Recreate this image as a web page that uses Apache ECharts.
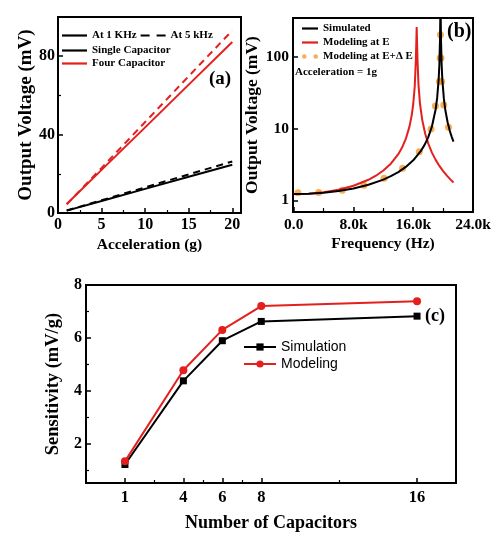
<!DOCTYPE html>
<html><head><meta charset="utf-8">
<script src="https://cdn.jsdelivr.net/npm/echarts@6/dist/echarts.min.js"></script>
<style>html,body{margin:0;padding:0;background:#fff}#c{width:500px;height:541px}</style>
</head><body><div id="c"></div>
<script>
// ---- Panel (a): output voltage vs acceleration ----
var accel = [1, 5, 10, 15, 20];
var singleAt1k = [1.2, 6.1, 12.3, 18.5, 24.6];
var singleAt5k = [1.25, 6.5, 13.1, 19.7, 26.3];
var fourAt1k = [4.6, 22.0, 43.7, 65.5, 87.2];
var fourAt5k = [4.4, 23.0, 46.4, 69.8, 93.1];
var aXLabels = [0, 5, 10, 15, 20];
var aYLabels = [0, 40, 80];

// ---- Panel (b): output voltage vs frequency ----
var simFreq = [0, 2000, 4000, 6000, 8000, 10000, 12000, 13000, 14000, 15000, 16000, 17000, 17500, 18000, 18500, 19000, 19200, 19400, 19500, 19580, 19650, 19720, 19800, 19900, 20100, 20300, 20600, 20900, 21150, 21390];
var simVolt = [1.22, 1.233, 1.273, 1.345, 1.462, 1.646, 1.946, 2.17, 2.478, 2.924, 3.62, 4.851, 5.9, 7.58, 10.74, 18.74, 26.9, 48.4, 80.3, 172, 600, 171, 79.6, 47.7, 26.3, 18.1, 12.3, 9.29, 7.7, 6.6];
var modFreq = [0, 2000, 4000, 6000, 8000, 10000, 11000, 12000, 13000, 14000, 14500, 15000, 15500, 15800, 16000, 16200, 16350, 16460, 16570, 16700, 16900, 17200, 17600, 18000, 18500, 19000, 19500, 20000, 20500, 21000, 21390];
var modVolt = [1.22, 1.238, 1.297, 1.407, 1.597, 1.934, 2.205, 2.604, 3.243, 4.411, 5.446, 7.198, 10.78, 15.52, 22.14, 38.98, 92, 263, 91, 41.5, 22.5, 13.3, 8.51, 6.23, 4.63, 3.67, 3.02, 2.56, 2.214, 1.943, 1.771];
var dotFreq = [560, 3350, 6490, 9400, 12100, 14570, 16810, 18380, 18970, 19500, 19600, 19640, 19720, 19800, 20090, 20720];
var dotVolt = [1.27, 1.28, 1.38, 1.62, 2.03, 2.8, 4.75, 9.9, 20.8, 45.5, 97, 205, 97, 45.5, 21.5, 10.5];
var bXLabels = [0, 8000, 16000, 24000];
var bYLabels = [1, 10, 100];

// ---- Panel (c): sensitivity vs number of capacitors ----
var capCount = [1, 4, 6, 8, 16];
var simSens = [1.2, 4.37, 5.89, 6.62, 6.82];
var modSens = [1.32, 4.77, 6.3, 7.2, 7.38];
var cYLabels = [2, 4, 6, 8];

function pairs(xs, ys) { return xs.map(function (x, i) { return [x, ys[i]]; }); }

var SERIF = '"Liberation Serif", "Times New Roman", serif';
var RED = '#e3201e', ORANGE = '#f59a2a';
var SOLID25 = 'path://M0,0H25V2.2H0Z';
var DASH25 = 'path://M0,0H9V2.2H0ZM16,0H25V2.2H16Z';
var SOLID16 = 'path://M0,0H16V2.2H0Z';
var DOTS16 = 'path://M0,3a3,3 0 1,0 6,0a3,3 0 1,0 -6,0M15,3a3,3 0 1,0 6,0a3,3 0 1,0 -6,0';

function baseAxis(extra) {
  var o = {
    axisLine: { show: true, onZero: false, lineStyle: { color: '#000', width: 2 } },
    splitLine: { show: false },
    nameLocation: 'middle'
  };
  for (var k in extra) o[k] = extra[k];
  return o;
}
function minorAxis(extra) {
  var o = {
    axisLine: { show: false, onZero: false },
    axisLabel: { show: false },
    splitLine: { show: false }
  };
  for (var k in extra) o[k] = extra[k];
  return o;
}
function ticks(vals, len, w) {
  return { show: true, inside: true, length: len, customValues: vals, lineStyle: { color: '#000', width: w } };
}
function labels(vals, size, margin, fmt) {
  var o = { color: '#000', fontFamily: SERIF, fontWeight: 'bold', fontSize: size, margin: margin, customValues: vals };
  if (fmt) o.formatter = fmt;
  return o;
}
function nameStyle(size) {
  return { color: '#000', fontFamily: SERIF, fontWeight: 'bold', fontSize: size };
}

var chart = echarts.init(document.getElementById('c'), null, { renderer: 'canvas' });
var option = {
  animation: false,
  backgroundColor: '#fff',
  grid: [
    { left: 58, top: 17, width: 183, height: 196, show: true, borderColor: '#000', borderWidth: 2, backgroundColor: 'transparent' },
    { left: 293, top: 18, width: 180, height: 194, show: true, borderColor: '#000', borderWidth: 2, backgroundColor: 'transparent' },
    { left: 86, top: 285, width: 370, height: 198, show: true, borderColor: '#000', borderWidth: 2, backgroundColor: 'transparent' }
  ],
  xAxis: [
    baseAxis({ gridIndex: 0, type: 'value', min: 0, max: 21, position: 'bottom',
      name: 'Acceleration (g)', nameGap: 24, nameTextStyle: nameStyle(15.5),
      axisTick: ticks(aXLabels, 5, 1.5), axisLabel: labels(aXLabels, 16, 4) }),
    baseAxis({ gridIndex: 1, type: 'value', min: -100, max: 24000, position: 'bottom',
      name: 'Frequency (Hz)', nameGap: 24, nameTextStyle: nameStyle(15.5),
      axisTick: ticks(bXLabels, 5, 1.5),
      axisLabel: labels(bXLabels, 15.5, 5, function (v) { return v === 0 ? '0.0' : (v / 1000).toFixed(1) + 'k'; }) }),
    baseAxis({ gridIndex: 2, type: 'value', min: -1, max: 18, position: 'bottom',
      name: 'Number of Capacitors', nameGap: 31, nameTextStyle: nameStyle(18),
      axisTick: ticks(capCount, 5, 1.5), axisLabel: labels(capCount, 16.5, 6) }),
    minorAxis({ gridIndex: 0, type: 'value', min: 0, max: 21, position: 'bottom', axisTick: ticks([2.5, 7.5, 12.5, 17.5], 3, 1.2) }),
    minorAxis({ gridIndex: 1, type: 'value', min: -100, max: 24000, position: 'bottom', axisTick: ticks([4000, 12000, 20000], 4, 1.2) }),
    minorAxis({ gridIndex: 2, type: 'value', min: -1, max: 18, position: 'bottom', axisTick: ticks([2.5, 5, 7, 12], 3, 1.2) })
  ],
  yAxis: [
    baseAxis({ gridIndex: 0, type: 'value', min: 0, max: 100, position: 'left',
      name: 'Output Voltage (mV)', nameGap: 20, nameTextStyle: nameStyle(19),
      axisTick: ticks(aYLabels, 5, 1.5), axisLabel: labels(aYLabels, 16, 3) }),
    baseAxis({ gridIndex: 1, type: 'log', logBase: 10, min: 0.686, max: 352, position: 'left',
      name: 'Output Voltage (mV)', nameGap: 26, nameTextStyle: nameStyle(17.5),
      axisTick: ticks(bYLabels, 5, 1.5), axisLabel: labels(bYLabels, 15.5, 4) }),
    baseAxis({ gridIndex: 2, type: 'value', min: 0.5, max: 8, position: 'left',
      name: 'Sensitivity (mV/g)', nameGap: 18, nameTextStyle: nameStyle(18.5),
      axisTick: ticks(cYLabels, 5, 1.5), axisLabel: labels(cYLabels, 16, 4) }),
    minorAxis({ gridIndex: 0, type: 'value', min: 0, max: 100, position: 'left', axisTick: ticks([20, 60], 3, 1.2) }),
    minorAxis({ gridIndex: 2, type: 'value', min: 0.5, max: 8, position: 'left', axisTick: ticks([1, 3, 5, 7], 3, 1.2) })
  ],
  legend: [
    { left: 62, top: 30, padding: 0, orient: 'horizontal', itemWidth: 25, itemHeight: 12, itemGap: 4, selectedMode: false,
      textStyle: { color: '#000', fontFamily: SERIF, fontWeight: 'bold', fontSize: 11 },
      data: [{ name: 'At 1 KHz', icon: SOLID25 }, { name: 'At 5 kHz', icon: DASH25 }] },
    { left: 62, top: 45, padding: 0, orient: 'vertical', itemWidth: 25, itemHeight: 12, itemGap: 2, selectedMode: false,
      textStyle: { color: '#000', fontFamily: SERIF, fontWeight: 'bold', fontSize: 11 },
      data: [{ name: 'Single Capacitor', icon: SOLID25 }, { name: 'Four Capacitor', icon: SOLID25 }] },
    { left: 302, top: 23, padding: 0, orient: 'vertical', itemWidth: 16, itemHeight: 12, itemGap: 3, selectedMode: false,
      textStyle: { color: '#000', fontFamily: SERIF, fontWeight: 'bold', fontSize: 11 },
      data: [{ name: 'Simulated', icon: SOLID16 }, { name: 'Modeling at E', icon: SOLID16 },
        { name: 'Modeling at E+Δ E', icon: DOTS16 }] },
    { left: 243, top: 340, padding: 0, orient: 'vertical', itemWidth: 32, itemHeight: 9, itemGap: 3, selectedMode: false,
      textStyle: { color: '#000', fontFamily: '"Liberation Sans", Arial, sans-serif', fontSize: 14 },
      data: ['Simulation', 'Modeling'] }
  ],
  graphic: [
    { type: 'text', left: 209, top: 70, style: { text: '(a)', fill: '#000', font: 'bold 19px ' + SERIF } },
    { type: 'text', left: 447, top: 22, style: { text: '(b)', fill: '#000', font: 'bold 20px ' + SERIF } },
    { type: 'text', left: 295, top: 67, style: { text: 'Acceleration = 1g', fill: '#000', font: 'bold 11px ' + SERIF } },
    { type: 'text', left: 425, top: 307, style: { text: '(c)', fill: '#000', font: 'bold 18px ' + SERIF } }
  ],
  series: [
    // panel (a)
    { name: 'Four Capacitor 5 kHz', type: 'line', xAxisIndex: 0, yAxisIndex: 0, data: pairs(accel, fourAt5k), showSymbol: false, symbol: 'none',
      lineStyle: { color: RED, width: 2, type: [7, 5] } },
    { name: 'Four Capacitor 1 kHz', type: 'line', xAxisIndex: 0, yAxisIndex: 0, data: pairs(accel, fourAt1k), showSymbol: false, symbol: 'none',
      lineStyle: { color: RED, width: 2 } },
    { name: 'Single Capacitor 5 kHz', type: 'line', xAxisIndex: 0, yAxisIndex: 0, data: pairs(accel, singleAt5k), showSymbol: false, symbol: 'none',
      lineStyle: { color: '#000', width: 2, type: [7, 5] } },
    { name: 'Single Capacitor 1 kHz', type: 'line', xAxisIndex: 0, yAxisIndex: 0, data: pairs(accel, singleAt1k), showSymbol: false, symbol: 'none',
      lineStyle: { color: '#000', width: 2 } },
    { name: 'At 1 KHz', type: 'line', xAxisIndex: 0, yAxisIndex: 0, data: [], symbol: 'none', itemStyle: { color: '#000' }, lineStyle: { color: '#000', width: 2 } },
    { name: 'At 5 kHz', type: 'line', xAxisIndex: 0, yAxisIndex: 0, data: [], symbol: 'none', itemStyle: { color: '#000' }, lineStyle: { color: '#000', width: 2 } },
    { name: 'Single Capacitor', type: 'line', xAxisIndex: 0, yAxisIndex: 0, data: [], symbol: 'none', itemStyle: { color: '#000' }, lineStyle: { color: '#000', width: 2 } },
    { name: 'Four Capacitor', type: 'line', xAxisIndex: 0, yAxisIndex: 0, data: [], symbol: 'none', itemStyle: { color: RED }, lineStyle: { color: RED, width: 2 } },
    // panel (b)
    { name: 'Modeling at E', type: 'line', xAxisIndex: 1, yAxisIndex: 1, data: pairs(modFreq, modVolt), showSymbol: false, symbol: 'none', clip: true,
      itemStyle: { color: RED }, lineStyle: { color: RED, width: 2 } },
    { name: 'Simulated', type: 'line', xAxisIndex: 1, yAxisIndex: 1, data: pairs(simFreq, simVolt), showSymbol: false, symbol: 'none', clip: true,
      itemStyle: { color: '#000' }, lineStyle: { color: '#000', width: 2 } },
    { name: 'Modeling at E+Δ E', type: 'scatter', xAxisIndex: 1, yAxisIndex: 1, data: pairs(dotFreq, dotVolt), symbol: 'circle', symbolSize: 7,
      itemStyle: { color: ORANGE } },
    // panel (c)
    { name: 'Simulation', type: 'line', xAxisIndex: 2, yAxisIndex: 2, data: pairs(capCount, simSens), symbol: 'rect', symbolSize: 7,
      itemStyle: { color: '#000' }, lineStyle: { color: '#000', width: 2 } },
    { name: 'Modeling', type: 'line', xAxisIndex: 2, yAxisIndex: 2, data: pairs(capCount, modSens), symbol: 'circle', symbolSize: 8,
      itemStyle: { color: RED }, lineStyle: { color: RED, width: 2 } }
  ]
};
chart.setOption(option);
</script>
</body></html>
